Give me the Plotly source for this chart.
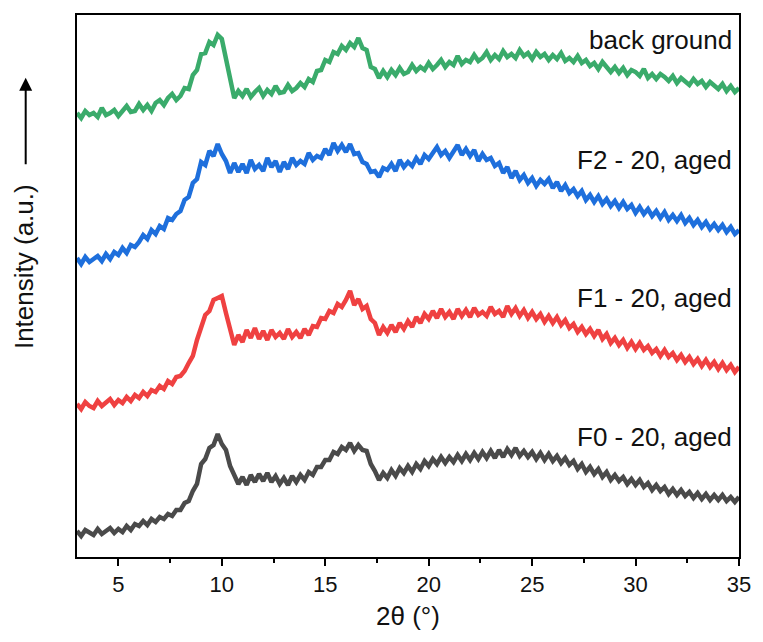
import numpy as np
import plotly.graph_objects as go

# 2-theta grid (degrees), 0.2 deg step from 3 to 35
two_theta = np.round(np.arange(3.0, 35.0001, 0.2), 1)

# Stacked XRD intensities (a.u.), one value per grid point
background = [
    444, 439, 446, 442, 444, 440, 449, 442, 444, 447,
    441, 446, 451, 445, 446, 453, 447, 452, 446, 454,
    457, 452, 459, 463, 457, 461, 469, 468, 482, 487,
    503, 504, 515, 512, 522, 518, 498, 478, 459, 466,
    461, 468, 460, 465, 469, 461, 467, 463, 471, 464,
    465, 472, 466, 469, 474, 470, 478, 475, 486, 487,
    497, 495, 505, 503, 511, 507, 514, 510, 519, 509,
    507, 490, 488, 479, 486, 480, 487, 482, 489, 483,
    485, 492, 486, 490, 487, 494, 488, 492, 497, 490,
    495, 492, 501, 493, 497, 495, 502, 496, 499, 505,
    497, 502, 498, 506, 500, 503, 499, 507, 501, 504,
    498, 505, 500, 503, 497, 502, 498, 504, 496, 499,
    495, 501, 494, 497, 491, 494, 488, 495, 490, 485,
    490, 484, 489, 482, 487, 485, 481, 488, 479, 483,
    478, 483, 480, 476, 481, 474, 479, 476, 472, 478,
    473, 476, 470, 475, 471, 468, 473, 466, 471, 465,
    469,
]

f2_aged = [
    299, 293, 300, 295, 298, 301, 296, 303, 298, 305,
    302, 309, 304, 312, 310, 315, 322, 318, 327, 323,
    331, 328, 339, 337, 343, 346, 357, 360, 374, 378,
    395, 392, 406, 401, 413, 403, 396, 384, 394, 385,
    393, 384, 397, 388, 392, 386, 399, 390, 396, 385,
    395, 388, 399, 392, 396, 393, 404, 397, 401, 399,
    408, 402, 414, 406, 412, 405, 413, 403, 404, 395,
    393, 385, 386, 380, 389, 387, 393, 386, 397, 390,
    395, 391, 399, 393, 402, 398, 404, 410, 402, 406,
    399, 405, 412, 402, 408, 401, 407, 396, 403, 397,
    399, 391, 394, 384, 390, 379, 386, 377, 382, 374,
    379, 371, 377, 373, 378, 369, 375, 366, 372, 364,
    368, 361, 366, 357, 362, 355, 361, 353, 358, 351,
    356, 349, 355, 348, 352, 344, 350, 343, 348, 341,
    346, 339, 345, 337, 342, 336, 342, 334, 339, 332,
    337, 330, 335, 328, 333, 327, 332, 325, 330, 323,
    327,
]

f1_aged = [
    153, 148, 155, 151, 149, 156, 151, 154, 158, 152,
    157, 154, 160, 156, 162, 159, 165, 161, 167, 165,
    171, 168, 176, 173, 180, 181, 186, 194, 201, 217,
    229, 242, 246, 257, 259, 261, 244, 229, 212, 222,
    215, 227, 219, 229, 218, 226, 217, 227, 220, 224,
    218, 228, 220, 225, 219, 228, 222, 231, 230, 239,
    238, 246, 244, 253, 250, 257, 266, 252, 258, 248,
    251, 238, 234, 222, 230, 224, 232, 225, 234, 228,
    236, 230, 240, 234, 243, 238, 246, 239, 248, 240,
    245, 238, 248, 241, 247, 240, 249, 242, 245, 241,
    250, 243, 246, 240, 251, 243, 249, 241, 247, 239,
    245, 238, 243, 235, 241, 234, 240, 232, 237, 229,
    233, 225, 230, 223, 228, 221, 227, 218, 223, 214,
    219, 212, 217, 209, 215, 208, 214, 207, 211, 204,
    208, 201, 207, 200, 204, 197, 202, 195, 200, 193,
    198, 191, 197, 190, 195, 188, 194, 187, 192, 185,
    190,
]

f0_aged = [
    26, 21, 27, 24, 22, 28, 23, 26, 29, 24,
    28, 25, 31, 27, 33, 31, 36, 32, 38, 35,
    40, 38, 43, 41, 47, 47, 54, 56, 66, 73,
    93, 98, 109, 112, 123, 113, 107, 91, 82, 73,
    80, 72, 82, 75, 83, 76, 84, 75, 81, 73,
    79, 72, 81, 75, 82, 77, 85, 82, 90, 90,
    97, 97, 105, 103, 110, 107, 114, 106, 112, 107,
    106, 93, 86, 77, 84, 79, 87, 81, 89, 84,
    91, 85, 93, 88, 96, 91, 98, 93, 100, 94,
    100, 95, 102, 96, 103, 97, 104, 98, 105, 99,
    106, 99, 107, 100, 108, 102, 109, 101, 106, 100,
    105, 98, 104, 97, 103, 96, 101, 94, 99, 92,
    96, 88, 93, 85, 90, 83, 88, 80, 85, 77,
    82, 76, 80, 73, 78, 72, 77, 70, 74, 67,
    72, 66, 70, 63, 68, 62, 67, 61, 65, 59,
    64, 58, 63, 57, 62, 57, 62, 56, 60, 55,
    60,
]

series_names = ["back ground", "F2 - 20, aged", "F1 - 20, aged", "F0 - 20, aged"]
series_values = [background, f2_aged, f1_aged, f0_aged]
series_colors = ["#3AAB6B", "#1E6FDC", "#EF4141", "#4A4A4A"]
label_heights = [517, 397, 259, 120]

x_tick_values = [5, 10, 15, 20, 25, 30, 35]

FONT = "Liberation Sans, Arial, sans-serif"

fig = go.Figure()
for name, vals, col in zip(series_names, series_values, series_colors):
    fig.add_trace(go.Scatter(
        x=two_theta, y=vals, mode="lines", name=name,
        line=dict(color=col, width=4.5), showlegend=False,
    ))

for name, h in zip(series_names, label_heights):
    fig.add_annotation(
        x=34.75, y=h, xref="x", yref="y", text=name, showarrow=False,
        xanchor="right", yanchor="middle",
        font=dict(family=FONT, size=26, color="#111111"),
    )

# y-axis title with an upward arrow above it
fig.add_annotation(
    x=-0.08, y=0.535, xref="paper", yref="paper", text="Intensity (a.u.)",
    textangle=-90, showarrow=False, xanchor="center", yanchor="middle",
    font=dict(family=FONT, size=26, color="#111111"),
)
fig.add_annotation(
    x=-0.0775, y=0.884, xref="paper", yref="paper", text="",
    showarrow=True, ax=0, ay=88, arrowhead=2, arrowsize=1.3, arrowwidth=2,
    arrowcolor="#000000",
)

fig.update_layout(
    width=763, height=642,
    margin=dict(l=77, r=15, t=15, b=85),
    paper_bgcolor="white", plot_bgcolor="white",
    font=dict(family=FONT, color="#111111"),
)
fig.update_xaxes(
    range=[3, 35], tickvals=x_tick_values,
    ticks="outside", ticklen=7, tickwidth=2, tickcolor="black",
    minor=dict(tickvals=[7.5, 12.5, 17.5, 22.5, 27.5, 32.5], ticks="outside",
               ticklen=4, tickwidth=2, tickcolor="black"),
    showline=True, linewidth=2, linecolor="black", mirror=True,
    showgrid=False, zeroline=False,
    tickfont=dict(family=FONT, size=22, color="#111111"),
    title=dict(text="2θ (°)", font=dict(family=FONT, size=26, color="#111111"), standoff=10),
)
fig.update_yaxes(
    range=[0, 542], showticklabels=False, ticks="",
    showline=True, linewidth=2, linecolor="black", mirror=True,
    showgrid=False, zeroline=False,
)

fig.write_html("out.html")
